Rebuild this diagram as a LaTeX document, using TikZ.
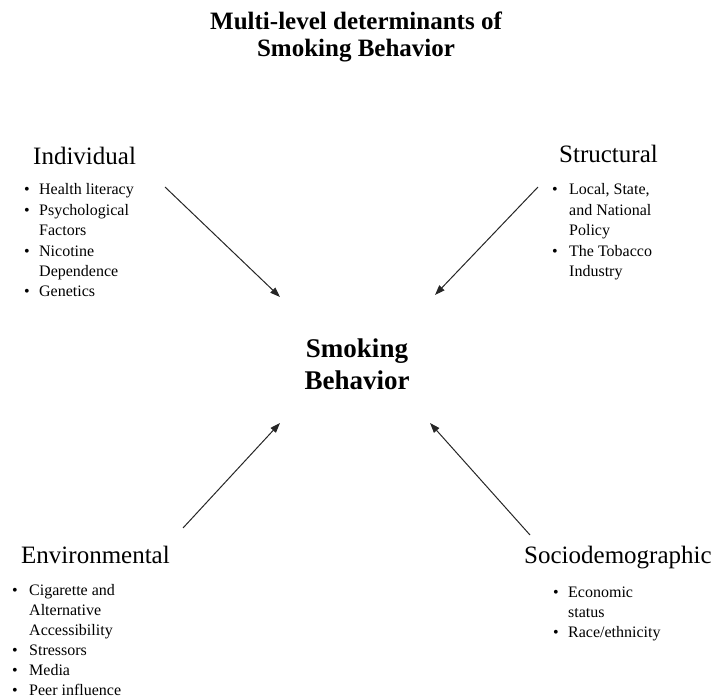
\documentclass[tikz,border=0pt]{standalone}
\usepackage{fontspec}
\setmainfont{Liberation Serif}
\usetikzlibrary{arrows.meta}

\begin{document}
\begin{tikzpicture}[x=1pt,y=-1pt,
  title/.style={anchor=base,inner sep=0pt,font=\bfseries\fontsize{25}{27}\selectfont},
  center/.style={anchor=base,inner sep=0pt,font=\bfseries\fontsize{27}{32}\selectfont},
  head/.style={anchor=base west,inner sep=0pt,font=\fontsize{25}{30}\selectfont},
  list/.style={anchor=base west,inner sep=0pt,font=\fontsize{16}{20.4}\selectfont},
  arr/.style={-{Triangle[length=10pt,width=7pt]},line width=1pt,draw=black!85}]
\useasboundingbox (0,0) rectangle (715,700);
\node (title) [title] at (356,30) {\begin{tabular}[t]{@{}c@{}}Multi-level determinants of\\Smoking Behavior\end{tabular}};
\node (smoking) [center] at (357,358) {\begin{tabular}[t]{@{}c@{}}Smoking\\Behavior\end{tabular}};

\node (ind) [head] at (33,165) {Individual};
\node (indlist) [list] at (24,195) {\begin{tabular}[t]{@{}p{15pt}@{}l@{}}
\textbullet & Health literacy\\
\textbullet & Psychological\\
 & Factors\\
\textbullet & Nicotine\\
 & Dependence\\
\textbullet & Genetics
\end{tabular}};

\node (str) [head] at (559,163) {Structural};
\node (strlist) [list] at (552,195) {\begin{tabular}[t]{@{}p{17pt}@{}l@{}}
\textbullet & Local, State,\\
 & and National\\
 & Policy\\
\textbullet & The Tobacco\\
 & Industry
\end{tabular}};

\node (env) [head] at (21,563) {Environmental};
\node (envlist) [list,font=\fontsize{16}{20}\selectfont] at (12,595) {\begin{tabular}[t]{@{}p{17pt}@{}l@{}}
\textbullet & Cigarette and\\
 & Alternative\\
 & Accessibility\\
\textbullet & Stressors\\
\textbullet & Media\\
\textbullet & Peer influence
\end{tabular}};

\node (soc) [head] at (524,563) {Sociodemographic};
\node (soclist) [list] at (553,597) {\begin{tabular}[t]{@{}p{15pt}@{}l@{}}
\textbullet & Economic\\
 & status\\
\textbullet & Race/ethnicity
\end{tabular}};

\coordinate (inda) at (165,187);
\coordinate (indb) at (280,297);
\coordinate (stra) at (538,187);
\coordinate (strb) at (435,295);
\coordinate (enva) at (183,528);
\coordinate (envb) at (280,423);
\coordinate (soca) at (530,535);
\coordinate (socb) at (430,423);
\draw [arr] (inda) -- (indb);
\draw [arr] (stra) -- (strb);
\draw [arr] (enva) -- (envb);
\draw [arr] (soca) -- (socb);
\end{tikzpicture}
\end{document}
